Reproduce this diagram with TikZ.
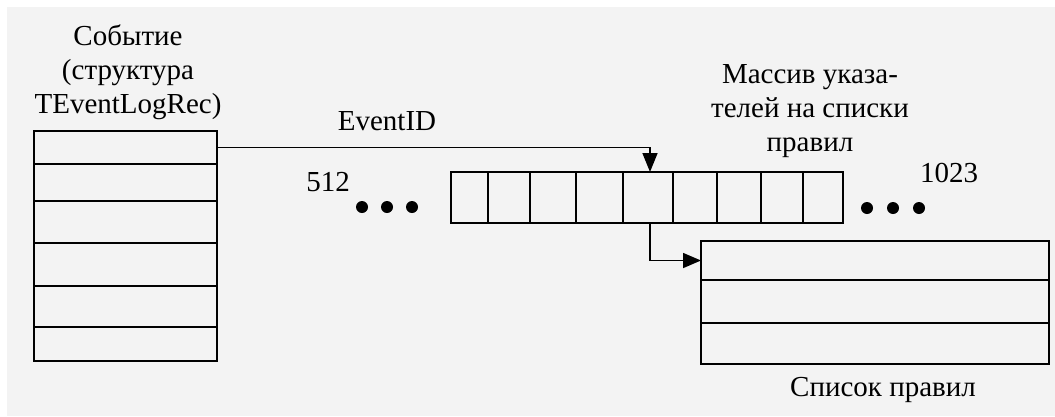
\documentclass[tikz,border=0pt]{standalone}
\usepackage{fontspec}
\setmainfont{Liberation Serif}
\usetikzlibrary{arrows.meta}
\definecolor{bgc}{HTML}{F3F3F3}
\tikzset{
  cell/.style={draw, line width=1.6pt, inner sep=0pt, outer sep=0pt, anchor=north west},
  conn/.style={line width=1.6pt},
  lbl/.style={align=center, inner sep=0pt, font=\fontsize{29}{34}\selectfont},
  dot/.style={circle, fill, inner sep=0pt, minimum size=12pt},
}
\begin{document}
\begin{tikzpicture}[x=1pt, y=-1pt]
\useasboundingbox (0,0) rectangle (1055,416);
\fill[bgc] (7,7) rectangle (1055,416);
% event structure
\node[cell, minimum width=183pt, minimum height=33pt] (e1) at (34,131) {};
\node[cell, minimum width=183pt, minimum height=37pt] (e2) at (34,164) {};
\node[cell, minimum width=183pt, minimum height=42pt] (e3) at (34,201) {};
\node[cell, minimum width=183pt, minimum height=43pt] (e4) at (34,243) {};
\node[cell, minimum width=183pt, minimum height=41pt] (e5) at (34,286) {};
\node[cell, minimum width=183pt, minimum height=34pt] (e6) at (34,327) {};
% array
\node[cell, minimum width=37pt, minimum height=51pt] (a1) at (451,172) {};
\node[cell, minimum width=42pt, minimum height=51pt] (a2) at (488,172) {};
\node[cell, minimum width=46pt, minimum height=51pt] (a3) at (530,172) {};
\node[cell, minimum width=47pt, minimum height=51pt] (a4) at (576,172) {};
\node[cell, minimum width=50pt, minimum height=51pt] (a5) at (623,172) {};
\node[cell, minimum width=44pt, minimum height=51pt] (a6) at (673,172) {};
\node[cell, minimum width=44pt, minimum height=51pt] (a7) at (717,172) {};
\node[cell, minimum width=42pt, minimum height=51pt] (a8) at (761,172) {};
\node[cell, minimum width=40pt, minimum height=51pt] (a9) at (803,172) {};
% rule list
\node[cell, minimum width=348pt, minimum height=39pt] (r1) at (701,241) {};
\node[cell, minimum width=348pt, minimum height=43pt] (r2) at (701,280) {};
\node[cell, minimum width=348pt, minimum height=41pt] (r3) at (701,323) {};
% dots
\node[dot] (l1) at (362,207) {};
\node[dot] (l2) at (387,207) {};
\node[dot] (l3) at (412,207) {};
\node[dot] (d1) at (867,208) {};
\node[dot] (d2) at (893,208) {};
\node[dot] (d3) at (919,208) {};
% labels
\node[lbl] (tev) at (128,72) {Событие\\(структура\\TEventLogRec)};
\node[lbl] (tarr) at (810,111) {Массив указа-\\телей на списки\\правил};
\node[lbl] (tid) at (387,121) {EventID};
\node[lbl] (t512) at (328,182) {512};
\node[lbl] (t1023) at (949,173) {1023};
\node[lbl] (tlist) at (883,390) {Список правил};
% connectors
\draw[conn, -{Triangle[width=15pt,length=19pt]}] (e1.east) -| ([xshift=2pt]a5.north);
\draw[conn, -{Triangle[width=15pt,length=18pt]}] ([xshift=2pt]a5.south) |- (r1.west);
\end{tikzpicture}
\end{document}
